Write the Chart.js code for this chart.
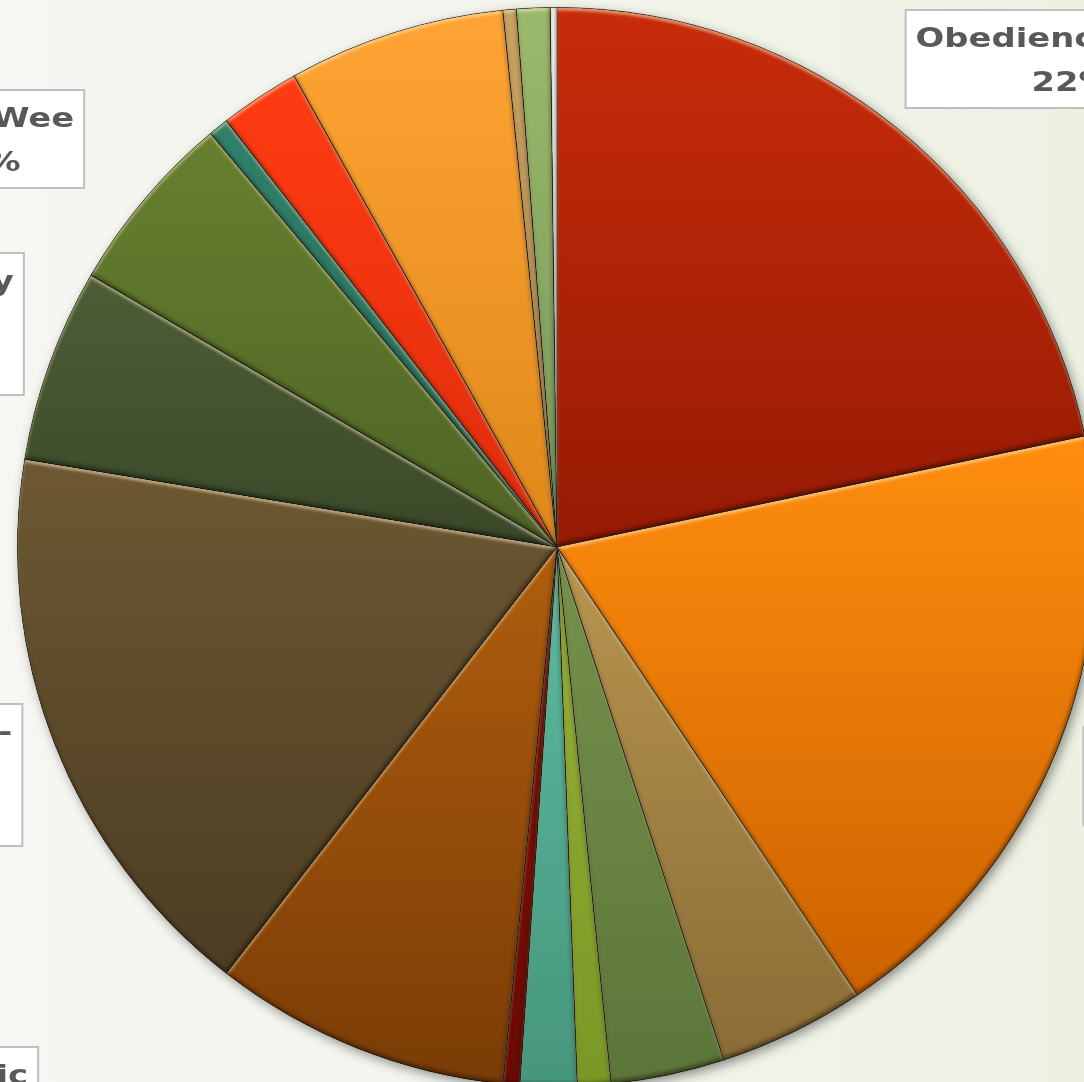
<!DOCTYPE html>
<html>
<head>
<meta charset="utf-8">
<title>Class enrolment</title>
<script src="https://cdn.jsdelivr.net/npm/chart.js@4/dist/chart.umd.min.js"></script>
<style>
  html, body {
    margin: 0;
    padding: 0;
    width: 1084px;
    height: 1082px;
    overflow: hidden;
    background: linear-gradient(to right, #f6f6f2 0%, #f3f4ec 55%, #edf1e2 100%);
  }
  #wrap {
    position: absolute;
    left: 0;
    top: 0;
  }
</style>
</head>
<body>
<div id="wrap">
  <canvas id="class-pie" width="1114" height="1094"></canvas>
</div>
<script>
// share of enrolments per class, clockwise from 12 o'clock
const categories = [
  'Obedience Class', 'Agility', 'Rally', 'Tracking', 'Herding', 'Flyball',
  'Dock Diving', 'Basic', ['Sport-', 'Dogs'], ['Therapy', 'Dogs'], 'Pee Wee',
  'Scent Work', 'Conformation', 'Puppy Class', 'Lure Coursing', 'Barn Hunt', 'Other'
];
const shares = [21.7, 18.9, 4.4, 3.4, 1.0, 1.7, 0.5, 8.9, 17.1, 5.8, 5.5, 0.6, 2.4, 6.5, 0.4, 1.0, 0.2];

// each slice fades from the light tone at its top to the dark tone at its bottom
const lightColors = [
  '#c82c0a', '#ff8e0e', '#b89650', '#76924c', '#98b236', '#5cbca2',
  '#861208', '#b05e0e', '#6e5833', '#4c5e36', '#66802e',
  '#30806a', '#ff3c12', '#ffa434', '#caa262', '#9aba6c', '#f7f7f2'
];
const darkColors = [
  '#961a04', '#cc6200', '#8a6c36', '#5c763a', '#7a9826', '#46967c',
  '#680a04', '#7a3c06', '#4c3c22', '#3a4828', '#4e6426',
  '#286a58', '#de2c0c', '#de881a', '#ae8650', '#76965a', '#e6e6dc'
];

const TAU = Math.PI * 2;

function pieGeometry(chart) {
  const a = chart.chartArea;
  return {
    cx: (a.left + a.right) / 2,
    cy: (a.top + a.bottom) / 2,
    r: Math.min(a.right - a.left, a.bottom - a.top) / 2
  };
}

function sliceFill(ctx) {
  const chart = ctx.chart;
  const i = ctx.dataIndex;
  if (!chart.chartArea || i === undefined) return lightColors[i] || '#999';
  const data = ctx.dataset.data;
  const total = data.reduce((s, v) => s + v, 0);
  let start = 0;
  for (let k = 0; k < i; k++) start += data[k] / total * TAU;
  const end = start + data[i] / total * TAU;
  const g = pieGeometry(chart);
  const yAt = (ang) => g.cy - g.r * Math.cos(ang);
  let top = Math.min(g.cy, yAt(start), yAt(end));
  let bottom = Math.max(g.cy, yAt(start), yAt(end));
  if (start <= 0.0001 || end >= TAU - 0.0001) top = g.cy - g.r;
  if (start <= Math.PI && end >= Math.PI) bottom = g.cy + g.r;
  const grad = chart.ctx.createLinearGradient(0, top, 0, bottom);
  grad.addColorStop(0, lightColors[i]);
  grad.addColorStop(1, darkColors[i]);
  return grad;
}

// soft drop shadow under the whole pie
const pieShadow = {
  id: 'pieShadow',
  beforeDatasetsDraw(chart) {
    const g = pieGeometry(chart);
    const c = chart.ctx;
    c.save();
    c.shadowColor = 'rgba(0,0,0,0.45)';
    c.shadowBlur = 12;
    c.shadowOffsetX = 3;
    c.shadowOffsetY = 4;
    c.beginPath();
    c.arc(g.cx, g.cy, g.r - 1, 0, TAU);
    c.fillStyle = '#6a5a40';
    c.fill();
    c.restore();
  }
};

// rounded bevel on every slice: light rim on upper edges, dark rim on lower edges
const sliceBevel = {
  id: 'sliceBevel',
  afterDatasetsDraw(chart) {
    const c = chart.ctx;
    const big = 5000;
    chart.getDatasetMeta(0).data.forEach(arc => {
      const { x, y, startAngle, endAngle, outerRadius } = arc.getProps(['x', 'y', 'startAngle', 'endAngle', 'outerRadius'], true);
      const slice = () => {
        c.beginPath();
        c.moveTo(x, y);
        c.arc(x, y, outerRadius, startAngle, endAngle);
        c.closePath();
      };
      const rimPass = (colour, dx, dy, blur) => {
        c.save();
        slice();
        c.clip();
        c.beginPath();
        c.rect(-big, -big, big * 2, big * 2);
        c.moveTo(x, y);
        c.arc(x, y, outerRadius, startAngle, endAngle);
        c.closePath();
        c.shadowColor = colour;
        c.shadowBlur = blur;
        c.shadowOffsetX = dx;
        c.shadowOffsetY = dy;
        c.fillStyle = '#000';
        c.fill('evenodd');
        c.restore();
      };
      rimPass('rgba(255,240,200,0.55)', 0, 3, 3);
      rimPass('rgba(0,0,0,0.45)', -1, -3, 4);
    });
  }
};

// boxed data labels: name lines plus the rounded percentage
const labelSpots = [
  { index: 0, x: 1072, y: 10 },
  { index: 1, x: 1155, y: 727 },
  { index: 7, x: -22, y: 1047 },
  { index: 8, x: -47, y: 704 },
  { index: 9, x: -64, y: 253 },
  { index: 10, x: -8, y: 90 }
];

const boxLabels = {
  id: 'boxLabels',
  afterDatasetsDraw(chart) {
    const c = chart.ctx;
    const data = chart.data.datasets[0].data;
    const total = data.reduce((s, v) => s + v, 0);
    const stretch = 1.3;
    const lineH = 44;
    const pad = 10;
    c.save();
    c.font = 'bold 26px "DejaVu Sans"';
    labelSpots.forEach(spot => {
      const name = chart.data.labels[spot.index];
      const lines = (Array.isArray(name) ? name.slice() : [name]);
      lines.push(Math.round(data[spot.index] / total * 100) + '%');
      const w = Math.max(...lines.map(l => c.measureText(l).width * stretch));
      const bw = w + pad * 2;
      const bh = lines.length * lineH + 10;
      c.fillStyle = '#ffffff';
      c.strokeStyle = '#bfbfbf';
      c.lineWidth = 2;
      c.fillRect(spot.x - bw / 2, spot.y, bw, bh);
      c.strokeRect(spot.x - bw / 2, spot.y, bw, bh);
      c.fillStyle = '#595959';
      c.textAlign = 'center';
      c.textBaseline = 'alphabetic';
      lines.forEach((l, k) => {
        c.save();
        c.translate(spot.x, spot.y + 37 + k * lineH);
        c.scale(stretch, 1);
        c.fillText(l, 0, 0);
        c.restore();
      });
    });
    c.restore();
  }
};

new Chart(document.getElementById('class-pie'), {
  type: 'pie',
  data: {
    labels: categories,
    datasets: [{
      data: shares,
      backgroundColor: sliceFill,
      borderColor: 'rgba(40,28,16,0.55)',
      borderWidth: 1
    }]
  },
  options: {
    responsive: false,
    animation: false,
    layout: {
      padding: { left: 17, right: 17, top: 7, bottom: 7 }
    },
    plugins: {
      legend: { display: false },
      tooltip: { enabled: false }
    }
  },
  plugins: [pieShadow, sliceBevel, boxLabels]
});
</script>
</body>
</html>
